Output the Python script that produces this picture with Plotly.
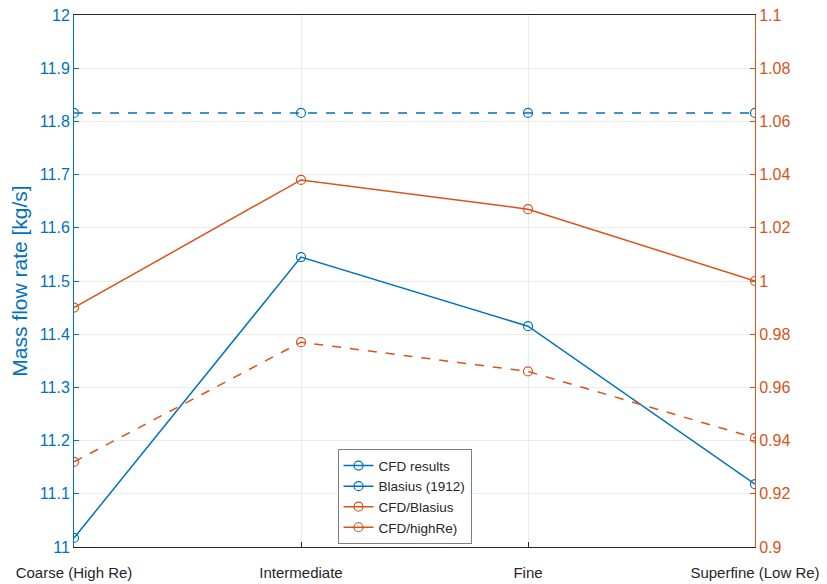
import plotly.graph_objects as go

categories = ["Coarse (High Re)", "Intermediate", "Fine", "Superfine (Low Re)"]
cfd_results = [11.017, 11.545, 11.415, 11.118]
blasius_1912 = [11.816, 11.816, 11.816, 11.816]
cfd_over_blasius = [0.990, 1.038, 1.027, 1.000]
cfd_over_highre = [0.932, 0.977, 0.966, 0.941]

BLUE = "#0072BD"
ORANGE = "#D95319"
FONT = "Liberation Sans, Arial, sans-serif"

xpos = list(range(len(categories)))

fig = go.Figure()
marker = dict(symbol="circle-open", size=9, line=dict(width=1.2))

# data traces
fig.add_trace(go.Scatter(x=xpos, y=cfd_results, name="CFD results", mode="lines+markers", showlegend=False,
                         line=dict(color=BLUE, width=1.5), marker=dict(color=BLUE, **marker)))
fig.add_trace(go.Scatter(x=xpos, y=blasius_1912, name="Blasius (1912)", mode="lines+markers", showlegend=False,
                         line=dict(color=BLUE, width=1.5, dash="dash"), marker=dict(color=BLUE, **marker)))
fig.add_trace(go.Scatter(x=xpos, y=cfd_over_blasius, name="CFD/Blasius", mode="lines+markers", yaxis="y2",
                         showlegend=False,
                         line=dict(color=ORANGE, width=1.5), marker=dict(color=ORANGE, **marker)))
fig.add_trace(go.Scatter(x=xpos, y=cfd_over_highre, name="CFD/highRe)", mode="lines+markers", yaxis="y2",
                         showlegend=False,
                         line=dict(color=ORANGE, width=1.5, dash="dash"), marker=dict(color=ORANGE, **marker)))

# legend entries (the reference legend shows solid line samples for all four)
for name, col in [("CFD results", BLUE), ("Blasius (1912)", BLUE),
                  ("CFD/Blasius", ORANGE), ("CFD/highRe)", ORANGE)]:
    fig.add_trace(go.Scatter(x=[None], y=[None], name=name, mode="lines+markers",
                             line=dict(color=col, width=1.5), marker=dict(color=col, **marker)))

fig.update_layout(
    width=827, height=584,
    margin=dict(l=66, r=80, t=7, b=45),
    paper_bgcolor="white", plot_bgcolor="white",
    font=dict(family=FONT, size=16, color="#262626"),
    showlegend=True,
    legend=dict(x=0.387, y=0.005, xanchor="left", yanchor="bottom",
                bgcolor="white", bordercolor="#7f7f7f", borderwidth=1,
                font=dict(size=13.5, color="#262626"), tracegroupgap=0),
    xaxis=dict(range=[0, 3], tickvals=xpos, ticktext=categories, automargin=False,
               showgrid=True, gridcolor="#ebebeb", gridwidth=1,
               showline=True, linecolor="#262626", linewidth=1, mirror=True,
               ticks="inside", ticklen=5, tickcolor="#262626", ticklabelstandoff=12,
               ticklabeloverflow="allow",
               tickfont=dict(size=15, color="#262626"), zeroline=False),
    yaxis=dict(range=[11, 12], dtick=0.1, tick0=11, automargin=False,
               showgrid=True, gridcolor="#ebebeb", gridwidth=1,
               showline=True, linecolor=BLUE, linewidth=1,
               ticks="inside", ticklen=5, tickcolor=BLUE, ticklabeloverflow="allow",
               tickfont=dict(size=16, color=BLUE), zeroline=False,
               title=dict(text="Mass flow rate [kg/s]", font=dict(size=21, color=BLUE), standoff=8)),
    yaxis2=dict(range=[0.9, 1.1], dtick=0.02, tick0=0.9, overlaying="y", side="right", automargin=False,
                showgrid=False, showline=True, linecolor=ORANGE, linewidth=1,
                ticks="inside", ticklen=5, tickcolor=ORANGE, ticklabeloverflow="allow",
                tickfont=dict(size=16, color=ORANGE), zeroline=False),
)

fig.write_html("out.html")
